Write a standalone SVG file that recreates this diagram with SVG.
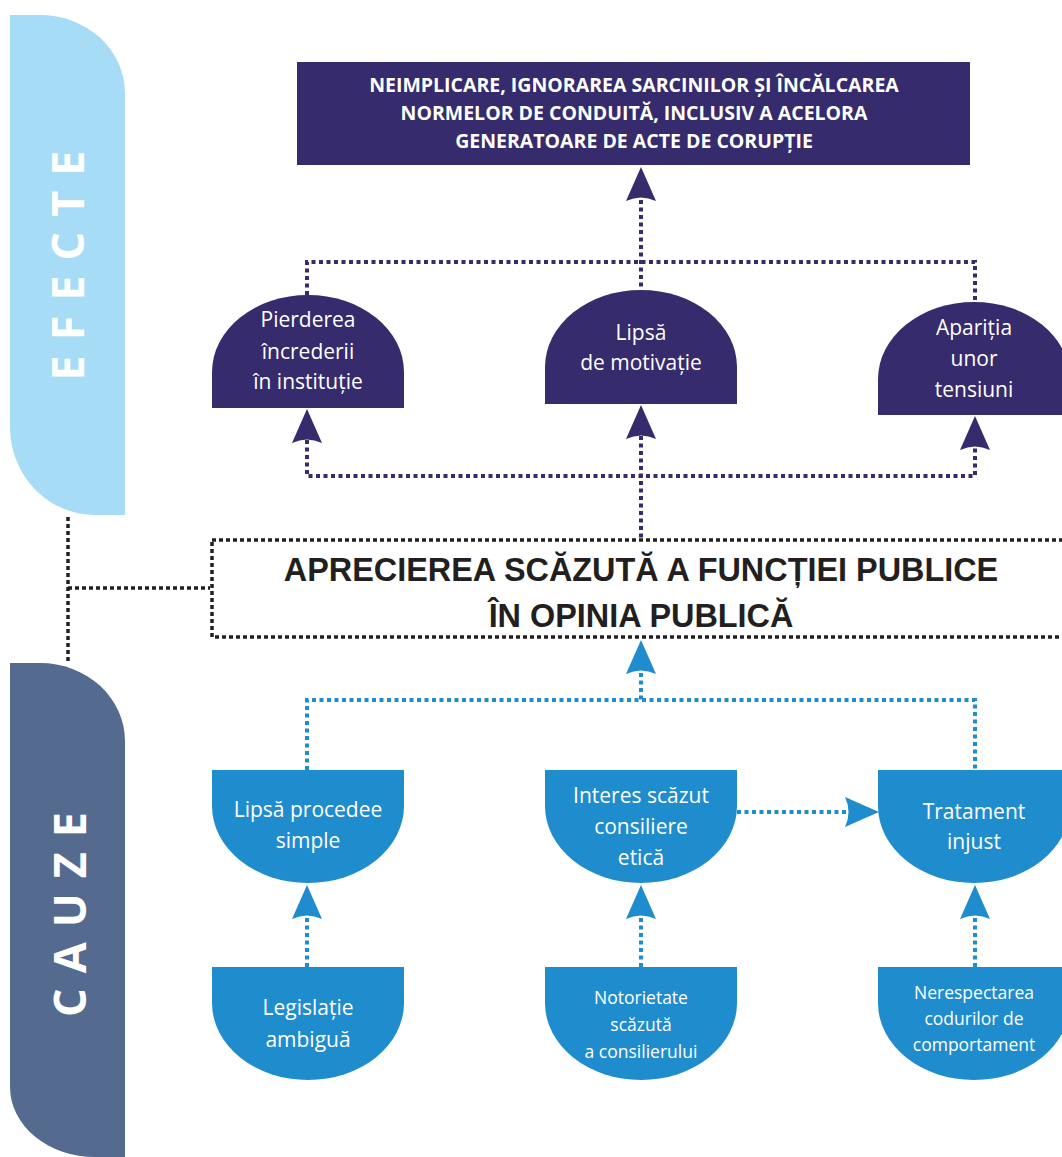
<svg xmlns="http://www.w3.org/2000/svg" width="1062" height="1157" viewBox="0 0 1062 1157">
<style>
.pur{fill:#352b6d}
.blu{fill:#1f8ccd}
.dp{fill:none;stroke:#352b6d;stroke-width:4;stroke-dasharray:4 3.5}
.db{fill:none;stroke:#1f8ccd;stroke-width:4;stroke-dasharray:4 3.5}
.dk{fill:none;stroke:#231f20;stroke-width:3.5;stroke-dasharray:4 3}
.nt{font-family:"Open Sans","Noto Sans",sans-serif;font-size:21px;fill:#fff;text-anchor:middle}
.st{font-family:"Open Sans","Noto Sans",sans-serif;font-size:17.5px;fill:#fff;text-anchor:middle}
.tt{font-family:"Open Sans","Noto Sans",sans-serif;font-size:19.5px;font-weight:bold;fill:#fff;text-anchor:middle}
.bt{font-family:"Liberation Sans",Arial,sans-serif;font-size:32.4px;font-weight:bold;fill:#231f20;text-anchor:middle}
.side{font-family:"Open Sans","Noto Sans",sans-serif;font-size:45px;font-weight:bold;fill:#fff;text-anchor:middle;letter-spacing:15px}
</style>
<defs>
<path id="ah" d="M0,0 L15,34 Q0,27 -15,34 Z"/>
</defs>

<g id="bar-efecte">
<path d="M10,15 H40 A85,78 0 0 1 125,93 V515 H95 A85,88 0 0 1 10,427 Z" fill="#a6dcf5"/>
<text class="side" transform="translate(84,258) rotate(-90)">EFECTE</text>
</g>
<g id="bar-cauze">
<path d="M10,663 H40 A85,78 0 0 1 125,741 V1157 H95 A85,70 0 0 1 10,1087 Z" fill="#556a8f"/>
<text class="side" transform="translate(86,907) rotate(-90)">CAUZE</text>
</g>

<g id="connectors">
<path class="dp" d="M641,200 V290"/>
<path class="dp" d="M307,295 V262 H975 V302"/>
<path class="dp" d="M307,440 V476 H975 V446"/>
<path class="dp" d="M641,436 V540"/>
<use href="#ah" class="pur" x="641" y="167"/>
<use href="#ah" class="pur" x="307" y="409"/>
<use href="#ah" class="pur" x="641" y="405"/>
<use href="#ah" class="pur" x="975" y="416"/>
<path class="dk" d="M68,517 V662"/>
<path class="dk" d="M68,588 H210"/>
<path class="db" d="M641,673 V700"/>
<path class="db" d="M307,770 V700 H975 V770"/>
<use href="#ah" class="blu" x="641" y="640"/>
<path class="db" d="M737,812 H850"/>
<use href="#ah" class="blu" transform="translate(879,812) rotate(90)"/>
<path class="db" d="M307,918 V967"/>
<path class="db" d="M641,918 V967"/>
<path class="db" d="M975,918 V967"/>
<use href="#ah" class="blu" x="307" y="885"/>
<use href="#ah" class="blu" x="641" y="885"/>
<use href="#ah" class="blu" x="975" y="885"/>
</g>

<g id="top-effect">
<rect x="297" y="62" width="673" height="103" class="pur"/>
<text class="tt" x="634" y="92">NEIMPLICARE, IGNORAREA SARCINILOR ȘI ÎNCĂLCAREA</text>
<text class="tt" x="634" y="120">NORMELOR DE CONDUITĂ, INCLUSIV A ACELORA</text>
<text class="tt" x="634" y="148">GENERATOARE DE ACTE DE CORUPȚIE</text>
</g>

<g id="effect-1">
<path class="pur" d="M212,408 V372 A96,77 0 0 1 404,372 V408 Z"/>
<text class="nt" x="308" y="327">Pierderea</text>
<text class="nt" x="308" y="359">încrederii</text>
<text class="nt" x="308" y="389">în instituție</text>
</g>
<g id="effect-2">
<path class="pur" d="M545,404 V367 A96,77 0 0 1 737,367 V404 Z"/>
<text class="nt" x="641" y="340">Lipsă</text>
<text class="nt" x="641" y="370">de motivație</text>
</g>
<g id="effect-3">
<path class="pur" d="M878,415 V379 A96,77 0 0 1 1070,379 V415 Z"/>
<text class="nt" x="974" y="335">Apariția</text>
<text class="nt" x="974" y="366">unor</text>
<text class="nt" x="974" y="397">tensiuni</text>
</g>

<g id="central">
<rect x="212" y="540" width="900" height="97" class="dk"/>
<text class="bt" x="641" y="581">APRECIEREA SCĂZUTĂ A FUNCȚIEI PUBLICE</text>
<text class="bt" x="641" y="627">ÎN OPINIA PUBLICĂ</text>
</g>

<g id="cause-1">
<path class="blu" d="M212,770 H404 V806 A96,77 0 0 1 212,806 Z"/>
<text class="nt" x="308" y="817">Lipsă procedee</text>
<text class="nt" x="308" y="848">simple</text>
</g>
<g id="cause-2">
<path class="blu" d="M545,770 H737 V806 A96,77 0 0 1 545,806 Z"/>
<text class="nt" x="641" y="803">Interes scăzut</text>
<text class="nt" x="641" y="834">consiliere</text>
<text class="nt" x="641" y="865">etică</text>
</g>
<g id="cause-3">
<path class="blu" d="M878,770 H1070 V806 A96,77 0 0 1 878,806 Z"/>
<text class="nt" x="974" y="819">Tratament</text>
<text class="nt" x="974" y="849">injust</text>
</g>

<g id="root-1">
<path class="blu" d="M212,967 H404 V1003 A96,77 0 0 1 212,1003 Z"/>
<text class="nt" x="308" y="1015">Legislație</text>
<text class="nt" x="308" y="1047">ambiguă</text>
</g>
<g id="root-2">
<path class="blu" d="M545,967 H737 V1003 A96,77 0 0 1 545,1003 Z"/>
<text class="st" x="641" y="1004">Notorietate</text>
<text class="st" x="641" y="1031">scăzută</text>
<text class="st" x="641" y="1058">a consilierului</text>
</g>
<g id="root-3">
<path class="blu" d="M878,967 H1070 V1003 A96,77 0 0 1 878,1003 Z"/>
<text class="st" x="974" y="999">Nerespectarea</text>
<text class="st" x="974" y="1025">codurilor de</text>
<text class="st" x="974" y="1051">comportament</text>
</g>
</svg>
